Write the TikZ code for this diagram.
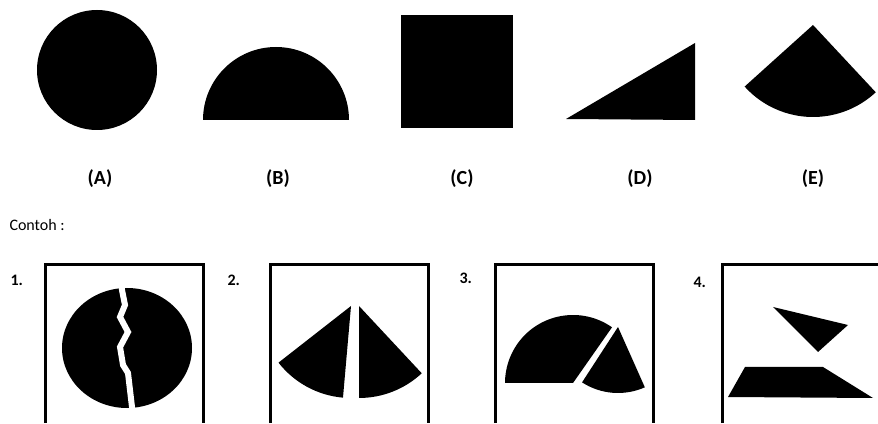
\documentclass[tikz,border=0pt]{standalone}
\usepackage{fontspec}
\setmainfont{Carlito}

\tikzset{
  blackfill/.style={fill=black},
  panelbox/.style={draw=black, line width=3pt},
  crack/.style={draw=white, line width=6pt, line join=miter},
  optlabel/.style={font=\fontsize{20}{24}\selectfont\bfseries},
  numlabel/.style={anchor=west, font=\fontsize{16}{19}\selectfont\bfseries},
}

\begin{document}
\begin{tikzpicture}[x=1pt, y=1pt]
        \useasboundingbox[fill=white] (0,0) rectangle (878,423);

        % Options
        \fill[blackfill] (97,353) circle (60);
        \fill[blackfill] (203,303) arc[start angle=180, end angle=0, radius=73] -- cycle;
        \fill[blackfill] (401,295) rectangle (513,408);
        \fill[blackfill] (566,304) -- (695,380) -- (695,303) -- cycle;
        \fill[blackfill] (813,398) -- ++(222:92) arc[start angle=222, end angle=313, radius=92] -- cycle;

        \node[optlabel] (la) at (100,244) {(A)};
        \node[optlabel] (lb) at (278,244) {(B)};
        \node[optlabel] (lc) at (462,244) {(C)};
        \node[optlabel] (ld) at (640,244) {(D)};
        \node[optlabel] (le) at (813,244) {(E)};

        \node[anchor=west, font=\fontsize{16}{19}\selectfont] (contoh) at (6,198) {Contoh :};

        % Example 1
        \node[numlabel] (n1) at (7,143) {1.};
        \draw[panelbox] (45,0) -- (45,158) -- (203,158) -- (203,0);
        \fill[blackfill] (127,75) ellipse[x radius=65, y radius=60];
        \draw[crack] (121,143) -- (122,133) -- (125,118) -- (120,106) -- (128,91) -- (120,76)
                -- (123,58) -- (128,50) -- (132,16) -- (133,8);

        % Example 2
        \node[numlabel] (n2) at (224,143) {2.};
        \draw[panelbox] (270,0) -- (270,158) -- (428,158) -- (428,0);
        \fill[blackfill] (351,117) -- ++(218:92) arc[start angle=218, end angle=265, radius=92] -- cycle;
        \fill[blackfill] (359,117) -- ++(270:92) arc[start angle=270, end angle=313, radius=92] -- cycle;

        % Example 3
        \node[numlabel] (n3) at (456,145) {3.};
        \draw[panelbox] (495,0) -- (495,158) -- (653,158) -- (653,0);
        \fill[blackfill] (573,40) -- ++(55:68) arc[start angle=55, end angle=180, radius=68] -- cycle;
        \fill[blackfill] (618,96) -- ++(237:66) arc[start angle=237, end angle=294, radius=66] -- cycle;

        % Example 4
        \node[numlabel] (n4) at (690,141) {4.};
        \draw[panelbox] (722,0) -- (722,158) -- (880,158);
        \fill[blackfill] (773,116) -- (848,98) -- (818,71) -- cycle;
        \fill[blackfill] (745,56) -- (823,56) -- (873,25) -- (728,26) -- cycle;
    \end{tikzpicture}
\end{document}
